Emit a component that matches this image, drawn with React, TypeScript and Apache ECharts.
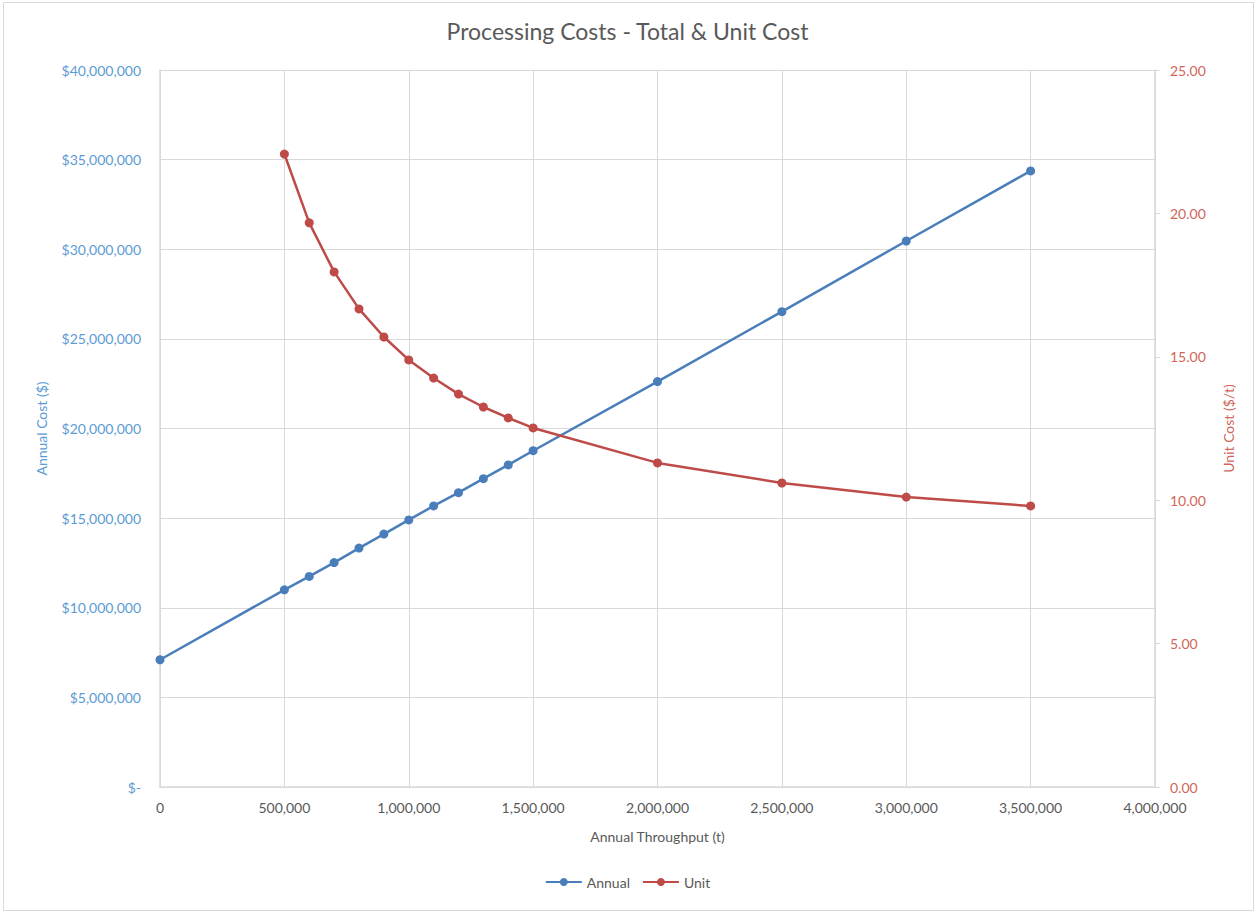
import React, { useEffect, useRef } from "react";
import * as echarts from "echarts";

const throughput = [0, 500000, 600000, 700000, 800000, 900000, 1000000, 1100000, 1200000, 1300000, 1400000, 1500000, 2000000, 2500000, 3000000, 3500000];
const annualCost = [7100000, 11000000, 11750000, 12520000, 13330000, 14110000, 14900000, 15680000, 16420000, 17200000, 17970000, 18760000, 22620000, 26520000, 30460000, 34370000];
const unitThroughput = [500000, 600000, 700000, 800000, 900000, 1000000, 1100000, 1200000, 1300000, 1400000, 1500000, 2000000, 2500000, 3000000, 3500000];
const unitCost = [22.07, 19.67, 17.96, 16.67, 15.69, 14.89, 14.26, 13.70, 13.25, 12.87, 12.52, 11.30, 10.60, 10.11, 9.80];

const titleText = "Processing Costs - Total & Unit Cost";
const xName = "Annual Throughput (t)";
const yLeftName = "Annual Cost ($)";
const yRightName = "Unit Cost ($/t)";
const seriesNames = ["Annual", "Unit"];

const FONT = "Lato, 'Open Sans', sans-serif";
const BLUE = "#4a7ebb";
const RED = "#be4b48";
const BLUE_TXT = "#5b9bd5";
const RED_TXT = "#d0665a";
const GRAY_TXT = "#595959";
const GRID = "#d9d9d9";

function fmtMoney(v: number) {
  if (v === 0) return "$-";
  return "$" + v.toLocaleString("en-US");
}

export default function App() {
  const ref = useRef<HTMLDivElement>(null);
  useEffect(() => {
    if (!ref.current) return;
    const chart = echarts.init(ref.current, undefined, { renderer: "svg" });
    chart.setOption({
      animation: false,
      backgroundColor: "#ffffff",
      textStyle: { fontFamily: FONT },
      title: {
        text: titleText,
        left: "center",
        top: 14,
        textStyle: { color: GRAY_TXT, fontSize: 23, fontWeight: "normal", fontFamily: FONT },
      },
      graphic: [
        {
          type: "rect",
          shape: { x: 3.5, y: 2.5, width: 1250, height: 908 },
          style: { fill: "none", stroke: GRID, lineWidth: 1 },
          silent: true,
        },
      ],
      legend: {
        bottom: 19,
        left: "center",
        itemWidth: 36,
        itemHeight: 10,
        itemGap: 12,
        textStyle: { color: GRAY_TXT, fontSize: 14, fontFamily: FONT },
        data: seriesNames,
      },
      grid: { left: 160, right: 100, top: 70, bottom: 126, containLabel: false },
      xAxis: {
        type: "value",
        min: 0,
        max: 4000000,
        interval: 500000,
        name: xName,
        nameLocation: "middle",
        nameGap: 42,
        nameTextStyle: { color: GRAY_TXT, fontSize: 14, fontFamily: FONT },
        axisLine: { show: true, lineStyle: { color: GRID, width: 1.5 } },
        axisTick: { show: false },
        axisLabel: {
          color: GRAY_TXT,
          fontSize: 14,
          margin: 13,
          fontFamily: FONT,
          formatter: (v: number) => v.toLocaleString("en-US"),
        },
        splitLine: { show: true, lineStyle: { color: GRID, width: 1 } },
      },
      yAxis: [
        {
          type: "value",
          min: 0,
          max: 40000000,
          interval: 5000000,
          position: "left",
          name: yLeftName,
          nameLocation: "middle",
          nameGap: 112,
          nameTextStyle: { color: BLUE_TXT, fontSize: 14, fontFamily: FONT },
          axisLine: { show: true, lineStyle: { color: GRID, width: 1.5 } },
          axisTick: { show: false },
          axisLabel: {
            color: BLUE_TXT,
            fontSize: 14,
            margin: 19,
            fontFamily: FONT,
            formatter: fmtMoney,
          },
          splitLine: { show: true, lineStyle: { color: GRID, width: 1 } },
        },
        {
          type: "value",
          min: 0,
          max: 25,
          interval: 5,
          position: "right",
          name: yRightName,
          nameLocation: "middle",
          nameGap: 66,
          nameRotate: 90,
          nameTextStyle: { color: RED_TXT, fontSize: 14, fontFamily: FONT },
          axisLine: { show: true, lineStyle: { color: GRID, width: 1.5 } },
          axisTick: { show: true, length: 5, lineStyle: { color: GRID } },
          axisLabel: {
            color: RED_TXT,
            fontSize: 14,
            margin: 15,
            fontFamily: FONT,
            formatter: (v: number) => v.toFixed(2),
          },
          splitLine: { show: false },
        },
      ],
      series: [
        {
          name: seriesNames[0],
          type: "line",
          yAxisIndex: 0,
          data: throughput.map((x, i) => [x, annualCost[i]]),
          symbol: "circle",
          symbolSize: 9,
          lineStyle: { color: BLUE, width: 2.5 },
          itemStyle: { color: BLUE },
          z: 3,
        },
        {
          name: seriesNames[1],
          type: "line",
          yAxisIndex: 1,
          data: unitThroughput.map((x, i) => [x, unitCost[i]]),
          symbol: "circle",
          symbolSize: 9,
          lineStyle: { color: RED, width: 2.5 },
          itemStyle: { color: RED },
          z: 4,
        },
      ],
    });
    return () => chart.dispose();
  }, []);
  return (
    <div
      ref={ref}
      style={{ position: "fixed", left: 0, top: 0, width: 1255, height: 913 }}
    />
  );
}
